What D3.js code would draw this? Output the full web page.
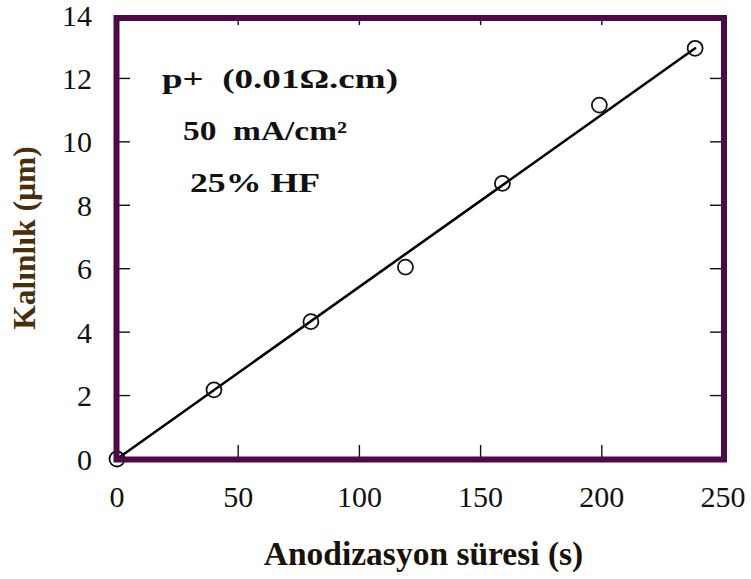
<!DOCTYPE html>
<html>
<head>
<meta charset="utf-8">
<script src="https://cdn.jsdelivr.net/npm/d3@7"></script>
<style>
  html, body { margin: 0; padding: 0; background: #fff; }
  svg { display: block; }
</style>
</head>
<body>
<svg id="chart" width="751" height="579"></svg>
<script>
// Anodization time (s) and measured porous layer thickness (µm)
const timeValues = [0, 40, 80, 119, 159, 199, 238.5];
const thicknessValues = [0, 2.18, 4.33, 6.05, 8.69, 11.16, 12.95];

// Linear fit drawn through the measurements
const fitTime = [0, 238.5];
const fitThickness = [0, 12.95];

const xTicks = [0, 50, 100, 150, 200, 250];
const yTicks = [0, 2, 4, 6, 8, 10, 12, 14];

const notes = ["p+  (0.01Ω.cm)", "50  mA/cm²", "25% HF"];
const xTitle = "Anodizasyon süresi (s)";
const yTitle = "Kalınlık (µm)";

const svg = d3.select("#chart");
const frameColor = "#4b0b46";
const serif = "'Liberation Serif', 'Times New Roman', serif";

const x = d3.scaleLinear().domain([0, 250]).range([117, 723]);
const y = d3.scaleLinear().domain([0, 14]).range([459, 15]);

// Inward ticks on all four sides
const tickG = svg.append("g").attr("stroke", "#111").attr("stroke-width", 1.4);
xTicks.slice(1, -1).forEach(t => {
  tickG.append("line").attr("x1", x(t)).attr("x2", x(t)).attr("y1", y(0)).attr("y2", y(0) - 14);
  tickG.append("line").attr("x1", x(t)).attr("x2", x(t)).attr("y1", 18).attr("y2", 25);
});
yTicks.slice(1, -1).forEach(t => {
  tickG.append("line").attr("x1", x(0)).attr("x2", x(0) + 13).attr("y1", y(t)).attr("y2", y(t));
  tickG.append("line").attr("x1", x(250)).attr("x2", x(250) - 13).attr("y1", y(t)).attr("y2", y(t));
});

// Fit line
svg.append("line")
  .attr("x1", x(fitTime[0])).attr("y1", y(fitThickness[0]))
  .attr("x2", x(fitTime[1])).attr("y2", y(fitThickness[1]))
  .attr("stroke", "#000").attr("stroke-width", 2.6).attr("stroke-linecap", "round");

// Measured points
svg.append("g").selectAll("circle")
  .data(timeValues.map((t, i) => [t, thicknessValues[i]]))
  .join("circle")
  .attr("cx", d => x(d[0])).attr("cy", d => y(d[1]))
  .attr("r", 7.5)
  .attr("fill", "none").attr("stroke", "#111").attr("stroke-width", 1.8);

// Frame
svg.append("rect")
  .attr("x", 116.5).attr("y", 18)
  .attr("width", 724 - 116.5).attr("height", 459.5 - 18)
  .attr("fill", "none").attr("stroke", frameColor).attr("stroke-width", 6);

// Tick labels
svg.append("g").selectAll("text")
  .data(yTicks).join("text")
  .attr("x", 92).attr("y", d => y(d)).attr("dy", "0.35em")
  .attr("text-anchor", "end")
  .attr("font-family", serif).attr("font-size", 30).attr("fill", "#111")
  .text(d => d);

svg.append("g").selectAll("text")
  .data(xTicks).join("text")
  .attr("x", d => x(d)).attr("y", 507)
  .attr("text-anchor", "middle")
  .attr("font-family", serif).attr("font-size", 30).attr("fill", "#111")
  .text(d => d);

// Axis titles
svg.append("text")
  .attr("x", 423.5).attr("y", 565)
  .attr("text-anchor", "middle")
  .attr("font-family", serif).attr("font-size", 33.5).attr("font-weight", "bold")
  .attr("fill", "#1a1208")
  .text(xTitle);

svg.append("text")
  .attr("transform", "translate(35,238) rotate(-90)")
  .attr("text-anchor", "middle")
  .attr("font-family", serif).attr("font-size", 31.5).attr("font-weight", "bold")
  .attr("fill", "#4a2e0c")
  .text(yTitle);

// Process conditions
const noteLayout = [
  { x: 162, y: 88, w: 236 },
  { x: 183, y: 140, w: 164 },
  { x: 190, y: 192, w: 130 }
];
svg.append("g").selectAll("text")
  .data(notes).join("text")
  .attr("x", (d, i) => noteLayout[i].x)
  .attr("y", (d, i) => noteLayout[i].y)
  .attr("textLength", (d, i) => noteLayout[i].w)
  .attr("lengthAdjust", "spacingAndGlyphs")
  .attr("xml:space", "preserve")
  .style("white-space", "pre")
  .attr("font-family", serif).attr("font-size", 27).attr("font-weight", "bold")
  .attr("fill", "#111")
  .text(d => d);
</script>
</body>
</html>
